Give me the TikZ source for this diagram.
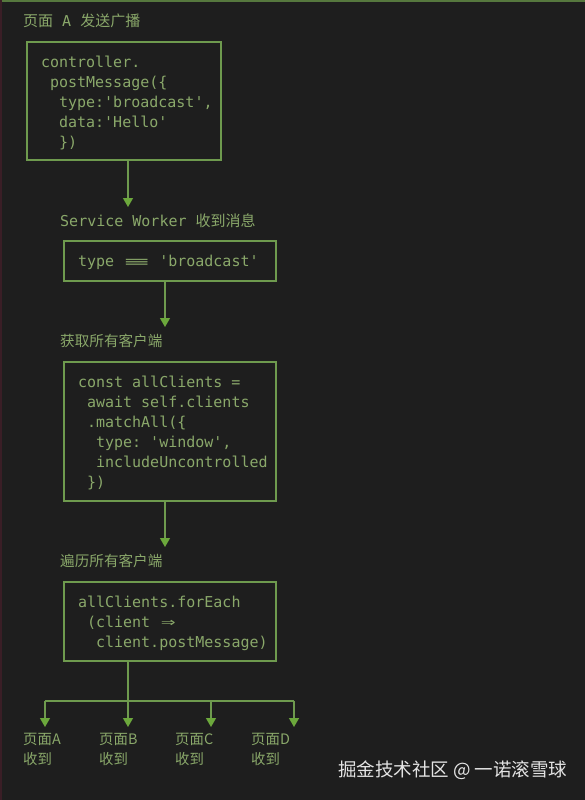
\documentclass[tikz,border=0pt]{standalone}
\usepackage{fontspec}
\usepackage{graphicx}
\usetikzlibrary{arrows.meta}
\newfontfamily\mono{DejaVu Sans Mono}
\newfontfamily\cjk{Noto Sans CJK SC}
\definecolor{bg}{HTML}{1E1E1E}
\definecolor{txtgreen}{HTML}{8AA86A}
\definecolor{linegreen}{HTML}{6E9A4E}
\definecolor{tipgreen}{HTML}{6CA83C}
\definecolor{topline}{HTML}{56783E}
\definecolor{leftline}{HTML}{3A1E26}
\definecolor{wm}{HTML}{E4E4E4}
\newlength\cw
\setlength\cw{9.03pt}
\newcommand\ind[1]{\hspace*{#1\cw}}
\newcommand\spc{\hspace*{\cw}}
\newcommand\sq{\textquotesingle}
\newcommand\tallrule{\rule{0pt}{15pt}}
\begin{document}
\begin{tikzpicture}[x=1pt,y=1pt,
  codebox/.style={draw=linegreen, line width=1.3pt, text=txtgreen,
    font=\mono\fontsize{15}{20}\selectfont, align=left, inner xsep=14pt, inner ysep=0pt},
  lbl/.style={text=txtgreen, anchor=west, inner sep=0pt, font=\mono\fontsize{15}{20}\selectfont},
  cjklbl/.style={text=txtgreen, anchor=west, inner sep=0pt, font=\cjk\fontsize{14.6}{20}\selectfont},
  botlbl/.style={cjklbl, anchor=north west, align=left, font=\cjk\fontsize{14.4}{20}\selectfont},
  conn/.style={draw=linegreen, line width=1.3pt},
  arr/.style={conn, -{Triangle[width=10pt,length=9pt,color=tipgreen]}}
]
\useasboundingbox (0,0) rectangle (585,-800);
\fill[bg] (0,0) rectangle (585,-800);
\fill[topline] (0,0) rectangle (585,-2);
\fill[leftline] (0,0) rectangle (1.5,-800);

% title
\node[lbl] (title) at (23,-21) {{\cjk 页面}\spc A\spc{\cjk 发送广播}};

% box 1
\node[codebox, minimum width=194pt, minimum height=118pt, text width=166pt] (b1) at (124,-101)
  {\mbox{\tallrule controller.}\\
   \mbox{\ind{1}postMessage(\{}\\
   \mbox{\ind{2}type:\sq broadcast\sq,}\\
   \mbox{\ind{2}data:\sq Hello\sq}\\
   \mbox{\ind{2}\})}};

\coordinate (t1) at (128,-207);
\draw[arr] (b1.south -| t1) -- (t1);
\node[lbl] (l1) at (60,-221) {Service\spc Worker\spc{\cjk 收到消息}};

% box 2
\node[codebox, minimum width=212pt, minimum height=40pt, text width=184pt] (b2) at (170,-261)
  {\mbox{\tallrule type\spc\makebox[3\cw]{\scalebox{2.8}[0.9]{≡}}\spc\sq broadcast\sq}};

\coordinate (t2) at (165,-327);
\draw[arr] (b2.south -| t2) -- (t2);
\node[cjklbl] (l2) at (60,-341) {获取所有客户端};

% box 3
\node[codebox, minimum width=212pt, minimum height=139pt, text width=184pt] (b3) at (170,-431.5)
  {\mbox{\tallrule const\spc allClients\spc =}\\
   \mbox{\ind{1}await\spc self.clients}\\
   \mbox{\ind{1}.matchAll(\{}\\
   \mbox{\ind{2}type:\spc\sq window\sq,}\\
   \mbox{\ind{2}includeUncontrolled}\\
   \mbox{\ind{1}\})}};

\coordinate (t3) at (165,-547);
\draw[arr] (b3.south -| t3) -- (t3);
\node[cjklbl] (l3) at (60,-561) {遍历所有客户端};

% box 4
\node[codebox, minimum width=212pt, minimum height=79pt, text width=184pt] (b4) at (170,-621.5)
  {\mbox{\tallrule allClients.forEach}\\
   \mbox{\ind{1}(client\spc\makebox[2\cw]{\scalebox{1.6}[1.1]{⇒}}}\\
   \mbox{\ind{2}client.postMessage)}};

% fan out
\coordinate (j) at (128,-701);
\coordinate (hA) at (45,-701);
\coordinate (hB) at (128,-701);
\coordinate (hC) at (211,-701);
\coordinate (hD) at (294,-701);
\coordinate (cA) at (45,-727);
\coordinate (cB) at (128,-727);
\coordinate (cC) at (211,-727);
\coordinate (cD) at (294,-727);
\draw[conn] (b4.south -| j) -- (j);
\draw[conn] (hA) -- (hD);
\draw[arr] (hA) -- (cA);
\draw[arr] (hB) -- (cB);
\draw[arr] (hC) -- (cC);
\draw[arr] (hD) -- (cD);

\node[botlbl] (pA) at (23,-733) {页面A\\收到};
\node[botlbl] (pB) at (99,-733) {页面B\\收到};
\node[botlbl] (pC) at (175,-733) {页面C\\收到};
\node[botlbl] (pD) at (251,-733) {页面D\\收到};

% watermark
\node[anchor=west, inner sep=0pt, text=wm, font=\cjk\fontsize{18.5}{22}\selectfont] (wmk) at (338,-770) {掘金技术社区 @ 一诺滚雪球};
\end{tikzpicture}
\end{document}
